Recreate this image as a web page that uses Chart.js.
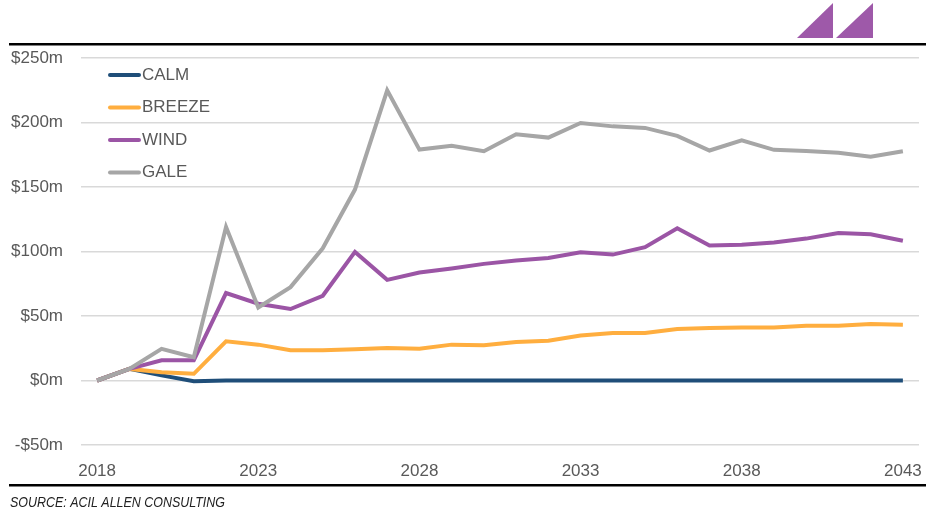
<!DOCTYPE html>
<html>
<head>
<meta charset="utf-8">
<script src="https://cdn.jsdelivr.net/npm/chart.js@4.4.1/dist/chart.umd.min.js"></script>
<style>
  html, body { margin: 0; padding: 0; background: #fff; }
  #wrap { width: 926px; height: 524px; position: relative; }
</style>
</head>
<body>
<div id="wrap"><canvas id="lineChart" width="926" height="524"></canvas></div>
<script>
const years = ['2018','2019','2020','2021','2022','2023','2024','2025','2026','2027','2028','2029','2030',
               '2031','2032','2033','2034','2035','2036','2037','2038','2039','2040','2041','2042','2043'];
const calm   = [0, 9, 4, -0.5, 0, 0, 0, 0, 0, 0, 0, 0, 0, 0, 0, 0, 0, 0, 0, 0, 0, 0, 0, 0, 0, 0];
const breeze = [0, 9, 6.4, 5.2, 30.4, 27.8, 23.4, 23.4, 24.2, 25.2, 24.7, 27.8, 27.3, 29.9, 30.9, 34.8,
                36.8, 36.8, 39.9, 40.7, 41, 41, 42.5, 42.5, 43.8, 43.3];
const wind   = [0, 9, 15.7, 15.7, 67.8, 59.5, 55.4, 65.7, 99.7, 78, 83.7, 86.8, 90.4, 93, 95, 99.4,
                97.6, 103.3, 118, 104.6, 105.3, 106.9, 110, 114.4, 113.3, 108.4];
const gale   = [0, 9, 24.5, 18, 119, 56.6, 72.4, 102.5, 148, 224.9, 179, 181.9, 177.7, 190.9, 188.3, 199.6,
                197, 195.8, 189.6, 178.3, 186.2, 178.8, 178, 176.5, 173.4, 177.7];
const yTicks = [-50, 0, 50, 100, 150, 200, 250];

const textColor = '#595959';
const fontFamily = '"Liberation Sans", Arial, sans-serif';

// black rules, logo, legend and source note
const decorations = {
    id: 'decorations',
    afterDraw(chart) {
        const ctx = chart.ctx;
        ctx.save();
        ctx.fillStyle = '#000';
        ctx.fillRect(9, 43, 917, 2.5);
        ctx.fillRect(9, 484, 917, 2.5);

        ctx.fillStyle = '#9E59A9';
        [[797, 833], [836, 873]].forEach(([x0, x1]) => {
            ctx.beginPath();
            ctx.moveTo(x0, 38);
            ctx.lineTo(x1, 3);
            ctx.lineTo(x1, 38);
            ctx.closePath();
            ctx.fill();
        });

        ctx.font = '17px ' + fontFamily;
        ctx.textBaseline = 'middle';
        chart.data.datasets.forEach((ds, i) => {
            const y = 75 + i * 32.5;
            ctx.strokeStyle = ds.borderColor;
            ctx.lineWidth = 4;
            ctx.lineCap = 'round';
            ctx.beginPath();
            ctx.moveTo(110, y);
            ctx.lineTo(139, y);
            ctx.stroke();
            ctx.fillStyle = textColor;
            ctx.fillText(ds.label, 142, y);
        });

        // condensed italic source line
        const note = 'SOURCE: ACIL ALLEN CONSULTING';
        ctx.font = 'italic 15px ' + fontFamily;
        ctx.fillStyle = '#222';
        const w = ctx.measureText(note).width;
        ctx.translate(10, 503);
        ctx.scale(215 / w, 1);
        ctx.fillText(note, 0, 0);
        ctx.restore();
    }
};

function series(label, data, color, order) {
    return {
        label: label,
        data: data,
        borderColor: color,
        backgroundColor: color,
        borderWidth: 4,
        pointRadius: 0,
        tension: 0,
        order: order
    };
}

new Chart(document.getElementById('lineChart').getContext('2d'), {
    type: 'line',
    data: {
        labels: years,
        datasets: [
            series('CALM', calm, '#1F4E79', 3),
            series('BREEZE', breeze, '#FFAE3F', 2),
            series('WIND', wind, '#9B55A5', 1),
            series('GALE', gale, '#A6A6A6', 0)
        ]
    },
    options: {
        responsive: false,
        animation: false,
        layout: { padding: { left: 0, right: 7, top: 58, bottom: 39 } },
        plugins: { legend: { display: false }, tooltip: { enabled: false } },
        scales: {
            x: {
                offset: true,
                grid: { display: false, drawTicks: false },
                border: { display: false },
                afterFit(scale) {
                    scale.height = 40;
                    scale.paddingLeft = 0;
                    scale.paddingRight = 0;
                },
                ticks: {
                    autoSkip: false,
                    maxRotation: 0,
                    padding: 16,
                    color: textColor,
                    font: { family: fontFamily, size: 17 },
                    callback: function(value, index) {
                        return index % 5 === 0 ? years[index] : '';
                    }
                }
            },
            y: {
                min: -50,
                max: 250,
                afterFit(scale) {
                    scale.width = 81;
                    scale.paddingTop = 0;
                    scale.paddingBottom = 0;
                },
                afterBuildTicks(scale) { scale.ticks = yTicks.map(v => ({ value: v })); },
                grid: { color: '#D9D9D9', lineWidth: 1.5, drawTicks: false },
                border: { display: false },
                ticks: {
                    padding: 18,
                    color: textColor,
                    font: { family: fontFamily, size: 17 },
                    callback: v => (v < 0 ? '-$' + Math.abs(v) : '$' + v) + 'm'
                }
            }
        }
    },
    plugins: [decorations]
});
</script>
</body>
</html>
